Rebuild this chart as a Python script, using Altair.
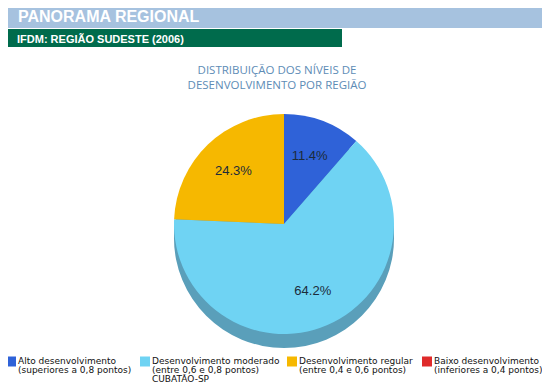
import altair as alt
import pandas as pd

# ---- data ----
categories = ["Alto desenvolvimento", "Desenvolvimento moderado",
              "Desenvolvimento regular", "Baixo desenvolvimento"]
subtitles = ["(superiores a 0,8 pontos)", "(entre 0,6 e 0,8 pontos)",
             "(entre 0,4 e 0,6 pontos)", "(inferiores a 0,4 pontos)"]
extra_lines = ["", "CUBATÃO-SP", "", ""]
percents = [11.4, 64.2, 24.3, 0.0]
colors = ["#2f62d8", "#6fd3f3", "#f6b800", "#df2a2a"]

header = "PANORAMA REGIONAL"
subheader = "IFDM: REGIÃO SUDESTE (2006)"
title_lines = ["DISTRIBUIÇÃO DOS NÍVEIS DE", "DESENVOLVIMENTO POR REGIÃO"]

df = pd.DataFrame({
    "cat": categories,
    "sub": subtitles,
    "extra": extra_lines,
    "pct": percents,
    "ord": list(range(len(categories))),
    "lbl": [f"{p:.1f}%" for p in percents],
})
one = pd.DataFrame({"k": [0]})

W, H = 534, 375
CX, CY, R, DEPTH = 276, 216, 110, 14
color_scale = alt.Scale(domain=categories, range=colors)
legend_x = alt.X("ord:Q",
                 scale=alt.Scale(domain=[0, 1, 2, 3], range=[3, 137, 284, 419],
                                 nice=False, zero=False),
                 axis=None)

base = alt.Chart(one)

bar_light = base.mark_rect(color="#a6c2df").encode(
    x=alt.value(0), x2=alt.value(540), y=alt.value(0), y2=alt.value(20))
bar_green = base.mark_rect(color="#006b4c").encode(
    x=alt.value(0), x2=alt.value(334), y=alt.value(21), y2=alt.value(39))
txt_header = base.mark_text(text=header, font="Liberation Sans", fontWeight="bold",
                            fontSize=16, color="white", align="left", baseline="alphabetic").encode(
    x=alt.value(10), y=alt.value(14))
txt_sub = base.mark_text(text=subheader, font="Liberation Sans", fontWeight="bold",
                         fontSize=11, color="white", align="left", baseline="alphabetic").encode(
    x=alt.value(9), y=alt.value(34.5))
txt_title = base.mark_text(text=title_lines, font="Open Sans", fontSize=11.5, lineHeight=14.5,
                           color="#5d8cb6", align="center", baseline="alphabetic").encode(
    x=alt.value(269), y=alt.value(66))

side_arc = base.mark_arc(radius=R, theta=0, theta2=6.2832, color="#5a9fba").encode(
    x=alt.value(CX), y=alt.value(CY + DEPTH))
side_rect = base.mark_rect(color="#5a9fba").encode(
    x=alt.value(CX - R), x2=alt.value(CX + R), y=alt.value(CY), y2=alt.value(CY + DEPTH))

pie = alt.Chart(df).mark_arc(radius=R).encode(
    theta=alt.Theta("pct:Q", stack=True),
    color=alt.Color("cat:N", scale=color_scale, legend=None),
    order=alt.Order("ord:Q"),
    x=alt.value(CX), y=alt.value(CY),
)

labels = alt.Chart(df).transform_filter("datum.pct > 0").mark_text(
    radius=73, font="Liberation Sans", fontSize=13, color="#1c2b3a").encode(
    theta=alt.Theta("pct:Q", stack=True),
    text="lbl:N",
    order=alt.Order("ord:Q"),
    x=alt.value(CX), y=alt.value(CY),
)

# ---- manual legend ----
leg = alt.Chart(df)
leg_sq = leg.mark_square(size=100, opacity=1, strokeWidth=0).encode(
    x=legend_x, y=alt.value(353.5),
    color=alt.Color("cat:N", scale=color_scale, legend=None))
txt_kw = dict(font="DejaVu Sans", fontSize=9, color="#111111", align="left",
              baseline="alphabetic", dx=7)
leg_l1 = leg.mark_text(**txt_kw).encode(x=legend_x, y=alt.value(355.5), text="cat:N")
leg_l2 = leg.mark_text(**txt_kw).encode(x=legend_x, y=alt.value(365), text="sub:N")
leg_l3 = leg.mark_text(**txt_kw).encode(x=legend_x, y=alt.value(374), text="extra:N")

chart = alt.layer(bar_light, bar_green, txt_header, txt_sub, txt_title,
                  side_rect, side_arc, pie, labels,
                  leg_sq, leg_l1, leg_l2, leg_l3).properties(
    width=W, height=H, autosize=alt.AutoSizeParams(type="none"), padding=0,
    background="white"
).configure_view(stroke=None)

chart.save("out.html", embed_options={"renderer": "svg", "actions": False})
